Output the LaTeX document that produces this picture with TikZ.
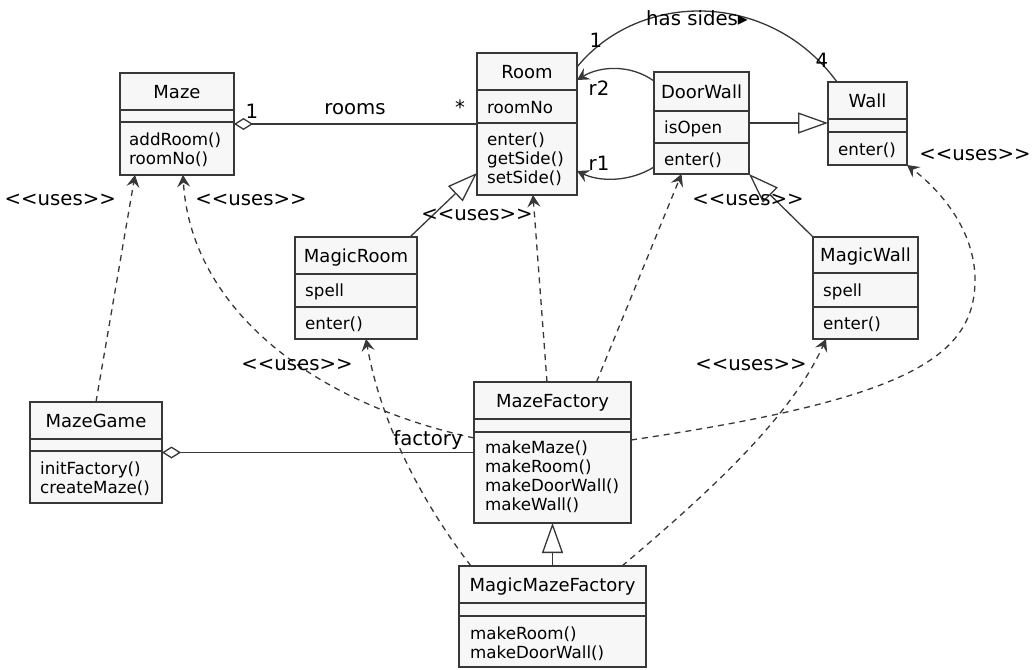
\documentclass[tikz,border=0pt]{standalone}
\usepackage{fontspec}
\setmainfont{DejaVu Sans}[Ligatures=TeXOff]
\usetikzlibrary{arrows.meta,fit,calc}
\definecolor{umlline}{HTML}{383838}
\definecolor{umlfill}{HTML}{F7F7F7}

\tikzset{
  classbox/.style={draw=umlline, fill=umlfill, line width=2pt, inner sep=0pt, outer sep=0pt},
  sepline/.style={draw=umlline, line width=2pt},
  classname/.style={font=\fontsize{18}{21}\selectfont, anchor=base, inner sep=0pt},
  member/.style={font=\fontsize{16.7}{19}\selectfont, anchor=base west, inner sep=0pt},
  lbl/.style={font=\fontsize{19.7}{23}\selectfont, inner sep=0pt},
  conn/.style={draw=umlline, line width=1.3pt},
  uses/.style={conn, dash pattern=on 6pt off 5pt, -{Stealth[length=12pt,width=13pt,inset=4.5pt]}},
  navig/.style={conn, -{Stealth[length=12pt,width=13pt,inset=4.5pt]}},
  inherit/.style={conn, -{Triangle[open,length=30pt,width=21pt]}},
  aggr/.style={conn, {Diamond[open,length=19pt,width=12pt]}-},
}

% class box: name, left, top, right, bottom, first separator, second separator, title
\newcommand\umlclass[8]{%
  \node[classbox, fit={(#2,#3) (#4,#5)}] (#1) {};
  \draw[sepline] (#2,#6) -- (#4,#6);
  \draw[sepline] (#2,#7) -- (#4,#7);
  \node[classname] (#1-name) at ({(#2+#4)/2},{(#3+#6)/2+6.5}) {#8};
}
% member lines: prefix, x, first baseline, comma list
\newcommand\members[4]{%
  \foreach \txt [count=\k] in {#4} {
    \node[member] (#1-\k) at (#2,{#3+(\k-1)*19.3}) {\txt};
  }%
}

\begin{document}
\begin{tikzpicture}[x=1pt,y=-1pt]
\useasboundingbox[fill=white] (0,0) rectangle (1035,669);
\clip (0,0) rectangle (1035,669);

% classes
\umlclass{maze}{120}{73}{234}{175}{110}{122}{Maze}
\members{maze-op}{129}{145}{addRoom(),roomNo()}

\umlclass{room}{477}{53}{577}{195}{90}{123}{Room}
\members{room-at}{487}{113}{roomNo}
\members{room-op}{487}{145}{enter(),getSide(),setSide()}

\umlclass{doorwall}{654}{72}{749}{174}{111}{143}{DoorWall}
\members{doorwall-at}{664}{133}{isOpen}
\members{doorwall-op}{664}{165}{enter()}

\umlclass{wall}{828}{82}{907}{165}{119}{132}{Wall}
\members{wall-op}{838}{155}{enter()}

\umlclass{magicroom}{295}{237}{417}{339}{274}{307}{MagicRoom}
\members{magicroom-at}{305}{296}{spell}
\members{magicroom-op}{305}{329}{enter()}

\umlclass{magicwall}{813}{237}{918}{339}{273}{307}{MagicWall}
\members{magicwall-at}{823}{296}{spell}
\members{magicwall-op}{823}{329}{enter()}

\umlclass{mazegame}{30}{402}{162}{503}{439}{451}{MazeGame}
\members{mazegame-op}{40}{474}{initFactory(),createMaze()}

\umlclass{mazefactory}{474}{382}{631}{523}{419}{432}{MazeFactory}
\members{mazefactory-op}{485}{453}{makeMaze(),makeRoom(),makeDoorWall(),makeWall()}

\umlclass{magicmazefactory}{459}{566}{646}{667}{603}{616}{MagicMazeFactory}
\members{magicmazefactory-op}{470}{639}{makeRoom(),makeDoorWall()}

% aggregations
\draw[aggr] (maze.east) -- (room.west);
\draw[aggr] (mazegame.east) -- (mazefactory.west);

% associations
\draw[conn] ([yshift=-14pt]room.north east) .. controls (640,-10) and (770,-10) .. ([xshift=9pt]wall.north west);
\draw[navig] ([yshift=-9pt]doorwall.north west) .. controls (630,64) and (600,66) .. ([yshift=-27pt]room.north east);
\draw[navig] ([yshift=7pt]doorwall.south west) .. controls (630,182) and (600,182) .. ([yshift=24pt]room.south east);

% generalizations
\draw[inherit] (doorwall.east) -- (doorwall.east -| wall.west);
\draw[inherit] ([xshift=-7pt]magicroom.north east) -- ([yshift=22pt]room.south west);
\draw[inherit] (magicwall.north west) -- (doorwall.south east);
\draw[inherit] (magicmazefactory.north) -- (mazefactory.south);

% dependencies
\coordinate (wallbend) at (975,280);
\draw[uses] (mazegame.north) -- ([xshift=15pt]maze.south west);
\draw[uses] ([yshift=-56pt]mazefactory.north west) .. controls (300,400) and (190,300) .. ([xshift=63pt]maze.south west);
\draw[uses] ([xshift=-5.5pt]mazefactory.north) -- ([xshift=6pt]room.south);
\draw[uses] ([xshift=44pt]mazefactory.north) -- ([xshift=-20pt]doorwall.south);
\draw[uses] ([yshift=-58pt]mazefactory.north east) .. controls (900,400) and (975,360) .. (wallbend) .. controls (975,230) and (940,190) .. (wall.south east);
\draw[uses] ([xshift=12pt]magicmazefactory.north west) .. controls (420,500) and (380,420) .. ([xshift=10pt]magicroom.south);
\draw[uses] ([xshift=-24pt]magicmazefactory.north east) .. controls (700,500) and (790,420) .. ([xshift=13pt]magicwall.south west);

% labels
\node[lbl, anchor=base] (mult-maze) at (252,118) {1};
\node[lbl, anchor=base] (role-rooms) at (355,114) {rooms};
\node[lbl, anchor=base] (mult-rooms) at (460,114) {*};
\node[lbl, anchor=base west] (role-sides) at (646,26) {has sides▸};
\node[lbl, anchor=base] (mult-room) at (596,48) {1};
\node[lbl, anchor=base] (mult-walls) at (822,67) {4};
\node[lbl, anchor=base] (role-r2) at (599,95) {r2};
\node[lbl, anchor=base] (role-r1) at (599,170) {r1};
\node[lbl, anchor=base] (role-factory) at (428,445) {factory};

\node[lbl, anchor=base east] (uses-game) at (116,205) {<<uses>>};
\node[lbl, anchor=base] (uses-maze) at (251,205) {<<uses>>};
\node[lbl, anchor=base] (uses-room) at (477,220) {<<uses>>};
\node[lbl, anchor=base] (uses-doorwall) at (748,205) {<<uses>>};
\node[lbl, anchor=base] (uses-wall) at (975,160) {<<uses>>};
\node[lbl, anchor=base] (uses-magicroom) at (297,370) {<<uses>>};
\node[lbl, anchor=base] (uses-magicwall) at (751,370) {<<uses>>};
\end{tikzpicture}
\end{document}
